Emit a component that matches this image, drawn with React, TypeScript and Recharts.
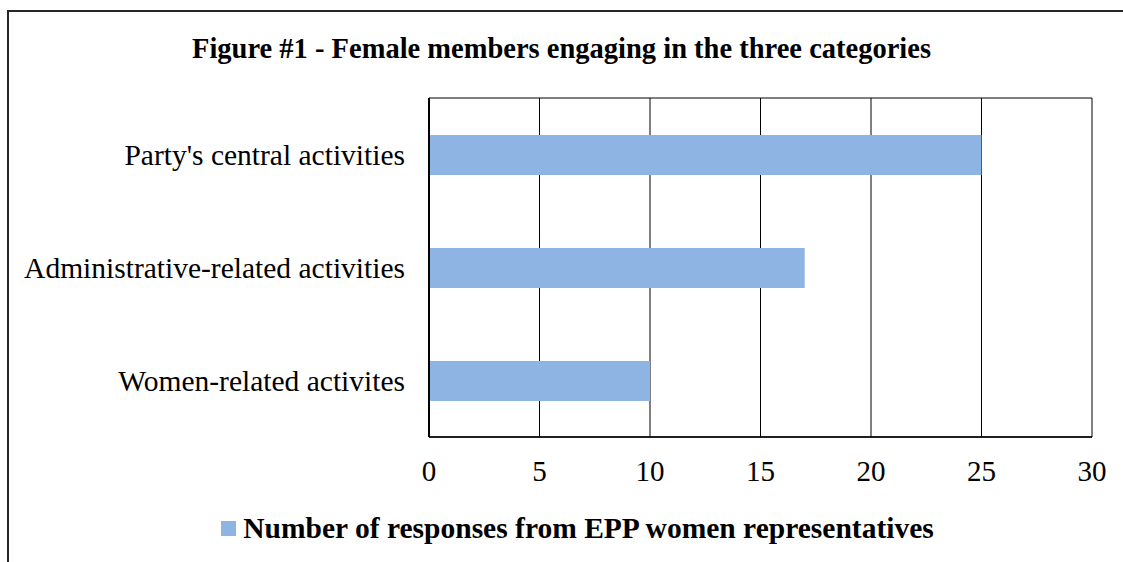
import React from "react";
import { BarChart, Bar, XAxis, YAxis, CartesianGrid } from "recharts";

const categories = [
  "Party's central activities",
  "Administrative-related activities",
  "Women-related activites",
];
const responses = [25, 17, 10];
const xTicks = [0, 5, 10, 15, 20, 25, 30];
const seriesName = "Number of responses from EPP women representatives";
const titleText = "Figure #1 - Female members engaging in the three categories";

const data = categories.map((c, i) => ({ category: c, value: responses[i] }));

const FONT = '"Liberation Serif", "Times New Roman", serif';
const BAR_COLOR = "#8EB4E3";

export default function App() {
  return (
    <div
      style={{
        position: "absolute",
        left: 0,
        top: 0,
        width: 1123,
        height: 562,
        overflow: "hidden",
        background: "#fff",
        fontFamily: FONT,
      }}
    >
      <div
        style={{
          position: "absolute",
          left: 7,
          top: 10,
          width: 1300,
          height: 700,
          border: "2px solid #262626",
          boxSizing: "border-box",
        }}
      />
      <div
        style={{
          position: "absolute",
          left: 0,
          top: 32,
          width: 1123,
          textAlign: "center",
          fontWeight: "bold",
          fontSize: 28.5,
          lineHeight: "34px",
          color: "#000",
        }}
      >
        {titleText}
      </div>
      <div style={{ position: "absolute", left: 0, top: 0 }}>
        <BarChart
          width={1123}
          height={562}
          data={data}
          layout="vertical"
          margin={{ top: 98, right: 31, bottom: 85, left: 0 }}
          barCategoryGap="32%"
        >
          <CartesianGrid
            stroke="#000"
            strokeWidth={1}
            horizontal={true}
            vertical={true}
            horizontalCoordinatesGenerator={({ offset }: any) => [
              offset.top,
              offset.top + offset.height,
            ]}
          />
          <XAxis
            type="number"
            domain={[0, 30]}
            ticks={xTicks}
            interval={0}
            height={40}
            tickLine={false}
            tickSize={0}
            tickMargin={23}
            axisLine={{ stroke: "#000", strokeWidth: 1.5 }}
            tick={{ fill: "#000", fontSize: 29, fontFamily: FONT }}
          />
          <YAxis
            type="category"
            dataKey="category"
            width={429}
            tickLine={false}
            tickSize={0}
            tickMargin={24}
            axisLine={{ stroke: "#000", strokeWidth: 2 }}
            tick={{ fill: "#000", fontSize: 29.5, fontFamily: FONT }}
          />
          <Bar
            dataKey="value"
            name={seriesName}
            fill={BAR_COLOR}
            barSize={40}
            isAnimationActive={false}
          />
        </BarChart>
      </div>
      <div
        style={{
          position: "absolute",
          left: 0,
          top: 511,
          width: 1123,
          display: "flex",
          justifyContent: "center",
          alignItems: "center",
          marginLeft: 16,
        }}
      >
        <div
          style={{
            width: 15,
            height: 15,
            background: BAR_COLOR,
            marginRight: 7,
          }}
        />
        <span
          style={{
            fontWeight: "bold",
            fontSize: 29.5,
            lineHeight: "34px",
            color: "#000",
          }}
        >
          {seriesName}
        </span>
      </div>
    </div>
  );
}
